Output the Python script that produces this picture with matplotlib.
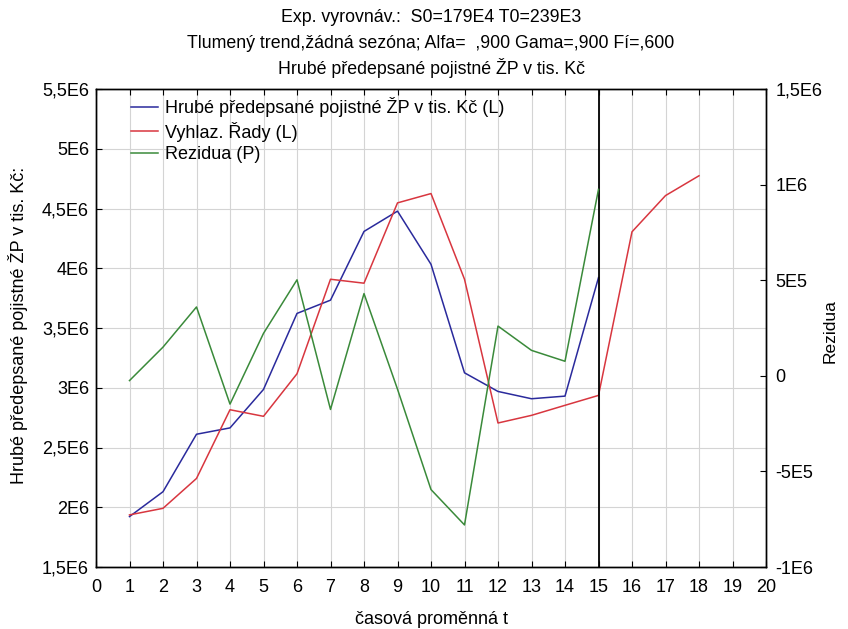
import numpy as np
import matplotlib
matplotlib.use("Agg")
import matplotlib.pyplot as plt

plt.rcParams['font.family'] = ['Liberation Sans', 'DejaVu Sans']

# casova promenna t
t_obs = list(range(1, 16))
t_smooth = list(range(1, 19))

# hrube predepsane pojistne (actual series)
actual = [1.922e6, 2.130e6, 2.611e6, 2.664e6, 2.986e6, 3.622e6, 3.733e6,
          4.308e6, 4.478e6, 4.033e6, 3.125e6, 2.969e6, 2.908e6, 2.930e6,
          3.922e6]
# vyhlazene rady incl. forecast 16-18
smoothed = [1.936e6, 1.991e6, 2.241e6, 2.816e6, 2.761e6, 3.117e6, 3.908e6,
            3.875e6, 4.547e6, 4.625e6, 3.908e6, 2.705e6, 2.769e6, 2.853e6,
            2.936e6, 4.305e6, 4.608e6, 4.774e6]
# rezidua (right axis)
residuals = [-0.025e6, 0.150e6, 0.360e6, -0.148e6, 0.222e6, 0.502e6,
             -0.176e6, 0.430e6, -0.070e6, -0.595e6, -0.780e6, 0.260e6,
             0.133e6, 0.076e6, 0.975e6]

left_ticks = [1.5e6, 2e6, 2.5e6, 3e6, 3.5e6, 4e6, 4.5e6, 5e6, 5.5e6]
left_labels = ["1,5E6", "2E6", "2,5E6", "3E6", "3,5E6", "4E6", "4,5E6",
               "5E6", "5,5E6"]
right_ticks = [-1e6, -5e5, 0, 5e5, 1e6, 1.5e6]
right_labels = ["-1E6", "-5E5", "0", "5E5", "1E6", "1,5E6"]

titles = ["Exp. vyrovnáv.:  S0=179E4 T0=239E3",
          "Tlumený trend,žádná sezóna; Alfa=  ,900 Gama=,900 Fí=,600",
          "Hrubé předepsané pojistné ŽP v tis. Kč"]

W, H = 848, 629
fig = plt.figure(figsize=(W / 100, H / 100), dpi=100)
ax = fig.add_axes([96 / W, 1 - 567 / H, 670 / W, 478 / H])
ax2 = ax.twinx()

l1, = ax.plot(t_obs, actual, color="#2a2a9c", lw=1.1,
              label="Hrubé předepsané pojistné ŽP v tis. Kč (L)")
l2, = ax.plot(t_smooth, smoothed, color="#d8363f", lw=1.1,
              label="Vyhlaz. Řady (L)")
l3, = ax2.plot(t_obs, residuals, color="#3a8a3a", lw=1.1,
               label="Rezidua (P)")
ax.axvline(15, color="black", lw=1.3, zorder=5)

ax.set_xlim(0, 20)
ax.set_xticks(range(0, 21))
ax.set_ylim(1.5e6, 5.5e6)
ax.set_yticks(left_ticks)
ax.set_yticklabels(left_labels)
ax2.set_ylim(-1e6, 1.5e6)
ax2.set_yticks(right_ticks)
ax2.set_yticklabels(right_labels)

ax.grid(True, color="#d4d4d4", lw=0.8)
ax.set_axisbelow(True)
ax.tick_params(axis="both", direction="in", length=4, labelsize=13,
               top=True)
ax.tick_params(axis="x", pad=9)
ax.tick_params(axis="y", pad=5)
ax2.tick_params(axis="y", direction="in", length=4, labelsize=13, pad=7)
for a in (ax, ax2):
    for s in a.spines.values():
        s.set_color("black")
        s.set_linewidth(1.0)

# axis titles placed like in the original export
fig.text(431 / W, 1 - 620 / H, "časová proměnná t", fontsize=13,
         ha="center", va="center")
fig.text(18 / W, 1 - 325 / H, "Hrubé předepsané pojistné ŽP v tis. Kč:",
         fontsize=13, rotation=90, ha="center", va="center")
fig.text(830 / W, 1 - 331 / H, "Rezidua", fontsize=12.5, rotation=90,
         ha="center", va="center")

for txt, yy in zip(titles, [17, 43, 68]):
    fig.text(431 / W, 1 - yy / H, txt, fontsize=12.8, ha="center",
             va="center")

ax.legend(handles=[l1, l2, l3], loc="upper left", frameon=False,
          fontsize=13, handlelength=1.5, handletextpad=0.4,
          labelspacing=0.25, borderaxespad=0, bbox_to_anchor=(0.041, 0.998))

fig.savefig("out.png", dpi=100)
